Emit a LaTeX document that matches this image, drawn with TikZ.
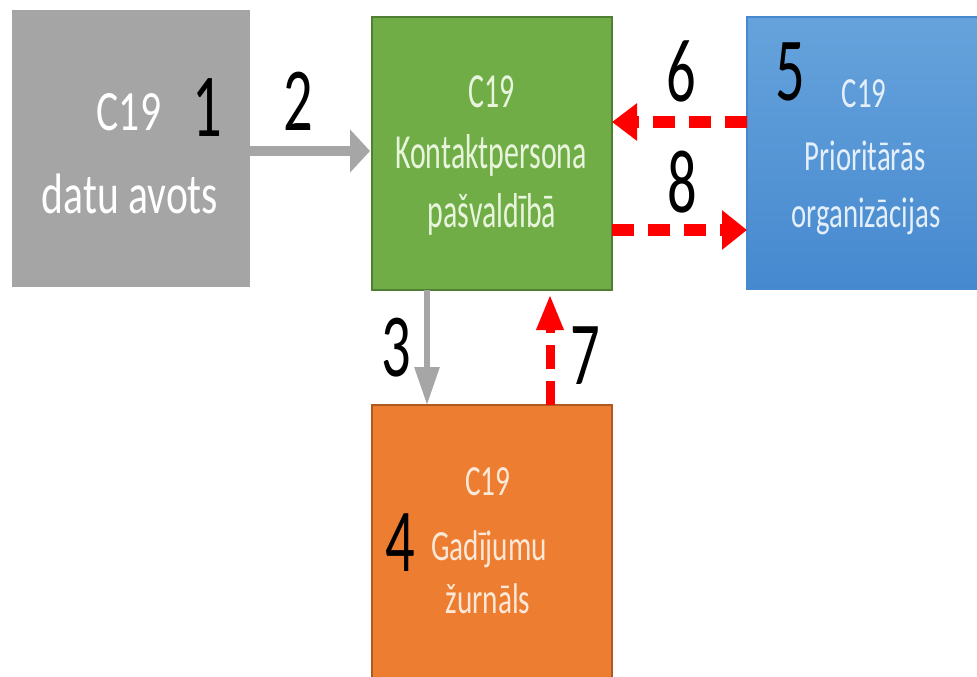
\documentclass[tikz,border=0pt]{standalone}
\usepackage{fontspec}
\setmainfont{Carlito}[FakeStretch=0.65]
\newfontfamily\srcfont{Carlito}[FakeStretch=0.73]
\newfontfamily\kpfont{Carlito}[FakeStretch=0.61]
\newfontfamily\orgfont{Carlito}[FakeStretch=0.67]
\newfontfamily\logfont{Carlito}[FakeStretch=0.68]
\usetikzlibrary{arrows.meta}
\definecolor{cgray}{HTML}{A5A5A5}
\definecolor{cgreen}{HTML}{70AD47}
\definecolor{cgreenb}{HTML}{507E32}
\definecolor{cgreent}{HTML}{E8F5DC}
\definecolor{corange}{HTML}{ED7D31}
\definecolor{coranget}{HTML}{FCE8D8}
\definecolor{corangeb}{HTML}{AE5A21}
\definecolor{cbluetop}{HTML}{66A3DC}
\definecolor{cbluebot}{HTML}{4689CF}
\definecolor{cbluet}{HTML}{E4EFFA}
\definecolor{cred}{HTML}{FF0000}
\definecolor{carrow}{HTML}{A6A6A6}
\tikzset{
  boxnode/.style={rectangle, inner sep=0pt, outer sep=0pt, line width=1.5pt},
  linetext/.style={anchor=base, inner sep=0pt},
  srctext/.style={linetext, text=white, font=\srcfont\fontsize{57}{60}\selectfont},
  kptext/.style={linetext, text=cgreent, font=\kpfont\fontsize{49}{50}\selectfont},
  orgtext/.style={linetext, text=cbluet, font=\orgfont\fontsize{43}{50}\selectfont},
  logtext/.style={linetext, text=coranget, font=\logfont\fontsize{43}{50}\selectfont},
  numtext/.style={inner sep=0pt, font=\fontsize{90}{90}\selectfont, text=black},
  grayarrow/.style={draw=carrow, line cap=butt},
  redarrow/.style={draw=cred, line cap=butt},
}
\begin{document}
\begin{tikzpicture}[x=1pt,y=-1pt]
\useasboundingbox (0,0) rectangle (977,677);
\fill[white] (0,0) rectangle (977,677);
% boxes
\node[boxnode, fill=cgray, minimum width=238pt, minimum height=277pt] (src) at (131,148.5) {};
\node[boxnode, fill=cgreen, draw=cgreenb, minimum width=240pt, minimum height=273pt] (kp) at (492,153.5) {};
\node[boxnode, top color=cbluetop, bottom color=cbluebot, draw=cbluebot, minimum width=236pt, minimum height=272pt] (org) at (865,153) {};
\node[boxnode, fill=corange, draw=corangeb, minimum width=240pt, minimum height=280pt] (log) at (492,545) {};
% texts
\node[srctext] (srcA) at (129,130) {C19};
\node[srctext] (srcB) at (130,213) {datu avots};
\node[kptext] (kpA) at (492,107) {C19};
\node[kptext] (kpB) at (491,168) {Kontaktpersona};
\node[kptext] (kpC) at (492,227) {pašvaldībā};
\node[orgtext] (orgA) at (864,107) {C19};
\node[orgtext] (orgB) at (865,170) {Prioritārās};
\node[orgtext] (orgC) at (866,227) {organizācijas};
\node[logtext] (logA) at (488,495) {C19};
\node[logtext] (logB) at (489,560) {Gadījumu};
\node[logtext] (logC) at (488,613) {žurnāls};
% numbers
\node[numtext] (n1) at (207,108) {1};
\node[numtext] (n2) at (298,101) {2};
\node[numtext] (n3) at (396,348) {3};
\node[numtext] (n4) at (400,543) {4};
\node[numtext] (n5) at (790,72) {5};
\node[numtext] (n6) at (681,71) {6};
\node[numtext] (n7) at (585,356) {7};
\node[numtext] (n8) at (682,182) {8};
% connectors
\draw[grayarrow, line width=10pt, shorten >=2pt, -{Triangle[length=20pt,width=42pt]}] (src.east |- 0,151) -- (kp.west |- 0,151);
\draw[grayarrow, line width=6pt, -{Triangle[length=38pt,width=24pt]}] (kp.south -| 427,0) -- (log.north -| 427,0);
\draw[redarrow, line width=9pt, dash pattern=on 24pt off 12pt, shorten >=4pt, -{Triangle[length=36pt,width=25pt]}] (log.north -| 550,0) -- (kp.south -| 550,0);
\draw[redarrow, line width=12pt, dash pattern=on 22pt off 14pt, -{Triangle[length=25pt,width=36pt]}] (org.west |- 0,122) -- (kp.east |- 0,122);
\draw[redarrow, line width=12pt, dash pattern=on 22pt off 14pt, -{Triangle[length=25pt,width=38pt]}] (kp.east |- 0,230) -- (org.west |- 0,230);
\end{tikzpicture}
\end{document}
